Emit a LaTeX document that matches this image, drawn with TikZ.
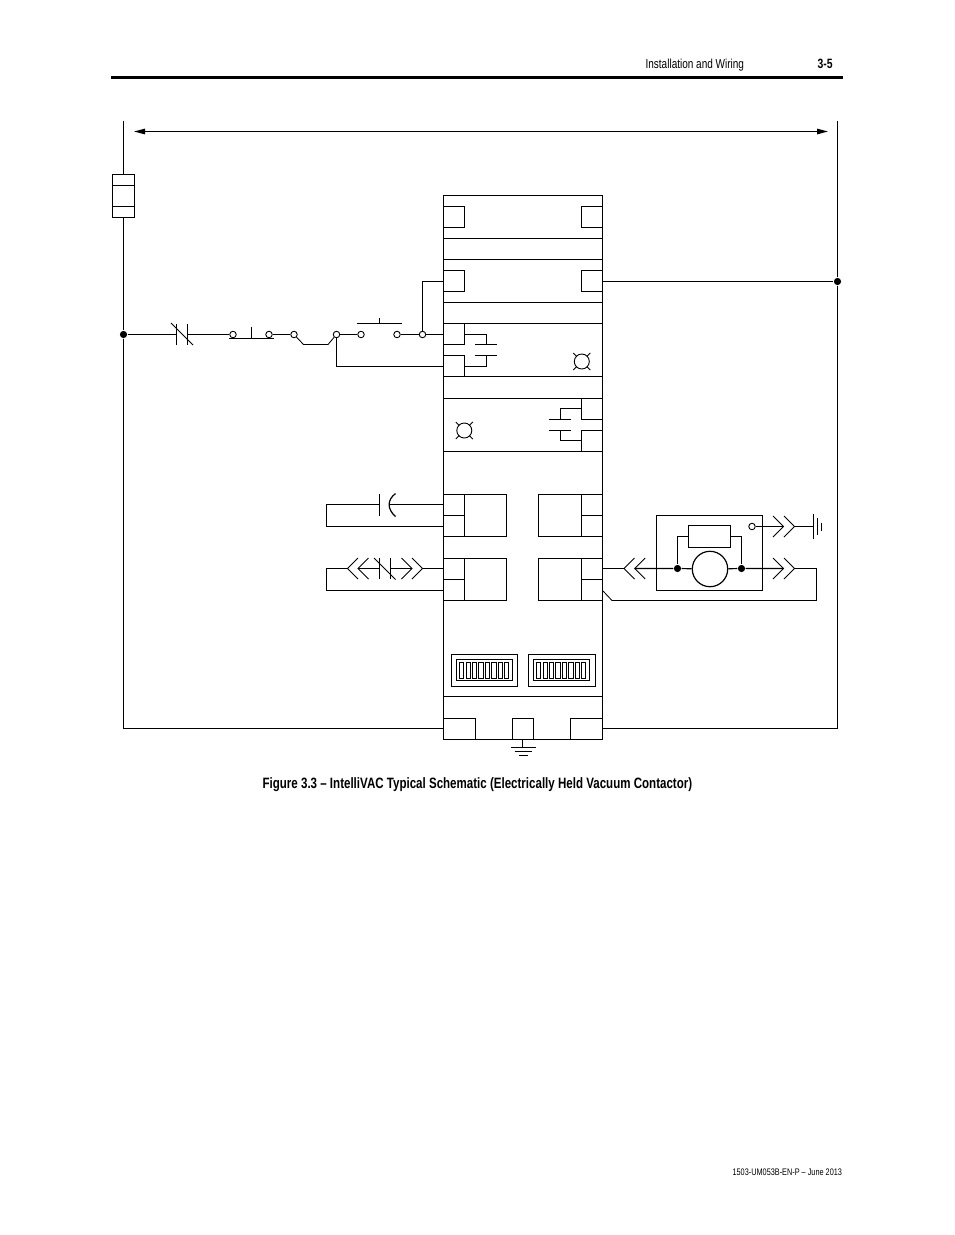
\documentclass[tikz,border=0pt]{standalone}
\usepackage{fontspec}
\usetikzlibrary{arrows.meta}
\setmainfont[FakeStretch=0.77]{Liberation Sans}
\newfontfamily\capfont[FakeStretch=0.77]{Liberation Sans}
\tikzset{
  wire/.style={line width=1.2pt,line cap=butt,line join=miter},
  thinw/.style={line width=0.85pt},
  term/.style={circle,draw,line width=0.9pt,fill=white,inner sep=0pt,minimum size=6.5pt},
  dot/.style={circle,fill=black,inner sep=0pt,minimum size=7.2pt},
  hdr/.style={inner sep=0pt,anchor=base west,font=\fontsize{13}{15}\selectfont},
  captext/.style={inner sep=0pt,anchor=base west,font=\capfont\bfseries\fontsize{15}{17}\selectfont},
  lampc/.style={circle,draw,line width=0.9pt,inner sep=0pt,minimum size=15pt},
  fusebox/.style={rectangle,draw,line width=1.2pt,inner sep=0pt,minimum width=22pt,minimum height=43pt},
  resbox/.style={rectangle,draw,line width=1.2pt,inner sep=0pt,minimum width=42pt,minimum height=22pt},
  motor/.style={circle,draw,line width=1.2pt,inner sep=0pt,minimum size=35.4pt},
}
\newcommand{\lampx}[2]{%
  \foreach \sx in {-1,1}{\foreach \sy in {-1,1}{
    \draw[thinw] (#1+5*\sx,#2+5*\sy) -- (#1+8.5*\sx,#2+8.5*\sy);}}}
\newcommand{\chevR}[2]{\draw[thinw] (#1-10.5,#2-10.5) -- (#1,#2) -- (#1-10.5,#2+10.5);}
\newcommand{\chevL}[2]{\draw[thinw] (#1+10.5,#2-10.5) -- (#1,#2) -- (#1+10.5,#2+10.5);}
\begin{document}
\begin{tikzpicture}[x=1pt,y=-1pt,wire]
\useasboundingbox[fill=white] (0,0) rectangle (954,1235);
% header / footer
\node[hdr] (htitle) at (645,68.5) {Installation and Wiring};
\node[hdr,font=\bfseries\fontsize{13.5}{15}\selectfont] (hpage) at (817,68.5) {3-5};
\fill (111,75.5) rectangle (843,78.5);
\node[captext] (caption) at (262,788) {Figure 3.3 – IntelliVAC Typical Schematic (Electrically Held Vacuum Contactor)};
\node[hdr,font=\fontsize{9.5}{11}\selectfont] (foot) at (732,1175.5) {1503-UM053B-EN-P – June 2013};

% named points
\coordinate (ltop) at (123.5,121);
\coordinate (lbot) at (123.5,728.5);
\coordinate (rtop) at (837.5,121);
\coordinate (rbot) at (837.5,728.5);
\coordinate (mL) at (443.5,728.5);
\coordinate (mR) at (602.5,728.5);
\coordinate (arrL) at (134,131.5);
\coordinate (arrR) at (828,131.5);
\node[fusebox] (fuse) at (123.5,196) {};
\node[dot] (jl) at (123.5,334.5) {};
\node[dot] (jr) at (837.5,281.5) {};

% outer rails and span arrow
\draw (ltop) -- (fuse.north);
\draw (fuse.south) -- (jl) -- (lbot) -- (mL);
\draw (rtop) -- (jr) -- (rbot) -- (mR);
\draw (112.5,185.5) -- (134.5,185.5) (112.5,206.5) -- (134.5,206.5);
\draw[{Triangle[length=11pt,width=5.5pt]}-{Triangle[length=11pt,width=5.5pt]}] (arrL) -- (arrR);

% module body
\draw (443.5,195.5) rectangle (602.5,739.5);
\foreach \y in {238.5,259.5,302.5,323.5,376.5,398.5,451.5,696.5}
  \draw (443.5,\y) -- (602.5,\y);
% upper terminals
\draw (443.5,206.5) -| (464.5,227.5) -- (443.5,227.5);
\draw (602.5,206.5) -| (581.5,227.5) -- (602.5,227.5);
\draw (443.5,270.5) -| (464.5,291.5) -- (443.5,291.5);
\draw (602.5,270.5) -| (581.5,291.5) -- (602.5,291.5);
\coordinate (t2L) at (443.5,281.5);
\coordinate (t2R) at (602.5,281.5);
\draw (t2R) -- (jr);
% aux contact left
\draw (464.5,323.5) -- (464.5,344.5) -- (443.5,344.5);
\draw (443.5,355.5) -- (464.5,355.5) -- (464.5,376.5);
\draw (464.5,334.5) -| (486.5,344.5);
\draw (475,344.5) -- (497,344.5) (475,355.5) -- (497,355.5);
\draw (486.5,355.5) |- (464.5,366.5);
\coordinate (t3L) at (443.5,334.5);
\coordinate (t4L) at (443.5,366.5);
% aux contact right
\draw (581.5,398.5) -- (581.5,419.5) -- (602.5,419.5);
\draw (602.5,430.5) -- (581.5,430.5) -- (581.5,451.5);
\draw (581.5,408.5) -| (560.5,419.5);
\draw (549,419.5) -- (571,419.5) (549,430.5) -- (571,430.5);
\draw (560.5,430.5) |- (581.5,440.5);
% lamps
\node[lampc] (lamp1) at (581.8,361.5) {};
\lampx{581.8}{361.5}
\node[lampc] (lamp2) at (464.3,430.5) {};
\lampx{464.3}{430.5}
% plug-in blocks
\foreach \y in {494.5,558.5}{
  \draw (443.5,\y) -- (506.5,\y) -- (506.5,\y+42) -- (443.5,\y+42);
  \draw (464.5,\y) -- (464.5,\y+42) (443.5,\y+21) -- (464.5,\y+21);
  \draw (602.5,\y) -- (538.5,\y) -- (538.5,\y+42) -- (602.5,\y+42);
  \draw (581.5,\y) -- (581.5,\y+42) (602.5,\y+21) -- (581.5,\y+21);
}
% DIP switches
\draw (451.5,654.5) rectangle (517.5,686.5) (456.5,659.5) rectangle (512.5,680.5);
\draw (528.5,654.5) rectangle (595.5,686.5) (533.5,659.5) rectangle (589.5,680.5);
\foreach \i in {0,...,7}{
  \draw[thinw] (459.5+6.45*\i,662.5) rectangle +(4.2,16);
  \draw[thinw] (536.5+6.45*\i,662.5) rectangle +(4.2,16);
}
% bottom terminals
\draw (443.5,718.5) -| (475.5,739.5);
\draw (512.5,739.5) |- (533.5,718.5) -- (533.5,739.5);
\draw (602.5,718.5) -| (570.5,739.5);
% chassis ground
\coordinate (gtop) at (522.5,739.5);
\coordinate (gbot) at (522.5,747.5);
\draw (gtop) -- (gbot);
\draw (511,747.5) -- (535.5,747.5) (514.5,751.5) -- (532,751.5) (519,755.5) -- (528,755.5);

% control string
\coordinate (c1a) at (176.5,334.5);
\coordinate (c1b) at (187.5,334.5);
\draw (jl) -- (c1a);
\draw (176.5,323.5) -- (176.5,344.5) (187.5,323.5) -- (187.5,344.5);
\draw[thinw] (171,323) -- (193,345);
\node[term] (s1) at (233,334.5) {};
\node[term] (s2) at (269,334.5) {};
\node[term] (s3) at (294,334.5) {};
\node[term] (s4) at (336.5,334.5) {};
\node[term] (s5) at (361,334.5) {};
\node[term] (s6) at (397,334.5) {};
\node[term] (s7) at (422.5,334.5) {};
\draw (c1b) -- (s1);
\draw (229,338.5) -- (273.5,338.5) (251.5,327) -- (251.5,338.5);
\draw (s2) -- (s3);
\draw[thinw] (s3) -- (303.5,344.5) -- (328,344.5) -- (s4);
\draw (s4) -- (s5);
\draw (357,323.5) -- (402,323.5) (379.5,318) -- (379.5,323.5);
\draw (s6) -- (s7);
\draw (s7) -- (t3L);
\draw (s7) -- (422.5,281.5) -- (t2L);
\draw (s4) |- (t4L);

% capacitor loop
\coordinate (p1) at (443.5,504.5);
\coordinate (p2) at (443.5,526.5);
\coordinate (q1) at (443.5,568.5);
\coordinate (q2) at (443.5,590.5);
\draw (p2) -- (326.5,526.5) -- (326.5,504.5) -- (379.5,504.5);
\draw (379.5,494) -- (379.5,516);
\draw (395.5,493.5) .. controls (387,500) and (387,509) .. (395.5,516.5);
\draw (p1) -- (389.2,504.5);
% lower left loop
\draw (q2) -- (326.5,590.5) -- (326.5,568.5) -- (347.5,568.5);
\chevL{347.5}{568.5}
\chevL{358}{568.5}
\draw (358,568.5) -- (379.5,568.5);
\draw (379.5,558) -- (379.5,579) (390.5,558) -- (390.5,579);
\draw[thinw] (374,558) -- (395.5,579.5);
\draw (390.5,568.5) -- (412,568.5);
\chevR{412}{568.5}
\chevR{422.5}{568.5}
\draw (422.5,568.5) -- (q1);

% motor / right assembly
\draw (656.5,515.5) rectangle (762.5,590.5);
\node[resbox] (res) at (709.5,536.5) {};
\node[motor] (mot) at (710,569) {};
\node[dot] (d1) at (677.5,568.5) {};
\node[dot] (d2) at (741.5,568.5) {};
\draw (res.west) -| (d1);
\draw (res.east) -| (d2);
\coordinate (o1) at (602.5,568.5);
\coordinate (o2) at (603,591);
\coordinate (rr1) at (816.5,568.5);
\coordinate (rr2) at (816.5,600.5);
\draw (o1) -- (624,568.5);
\chevL{624}{568.5}
\chevL{634.7}{568.5}
\draw (634.7,568.5) -- (d1) -- (mot);
\draw (mot) -- (d2) -- (783.5,568.5);
\chevR{783.5}{568.5}
\chevR{794.5}{568.5}
\draw (794.5,568.5) -- (rr1) -- (rr2) -- (612,600.5);
\draw[thinw] (612,600.5) -- (o2);
\node[term] (s8) at (752,526.5) {};
\coordinate (gr) at (813.5,526.5);
\draw (s8) -- (783.5,526.5);
\chevR{783.5}{526.5}
\chevR{794.5}{526.5}
\draw (794.5,526.5) -- (gr);
\draw (813.5,514) -- (813.5,538.5) (817.5,518) -- (817.5,535) (821.5,522.5) -- (821.5,530.5);
\end{tikzpicture}
\end{document}
